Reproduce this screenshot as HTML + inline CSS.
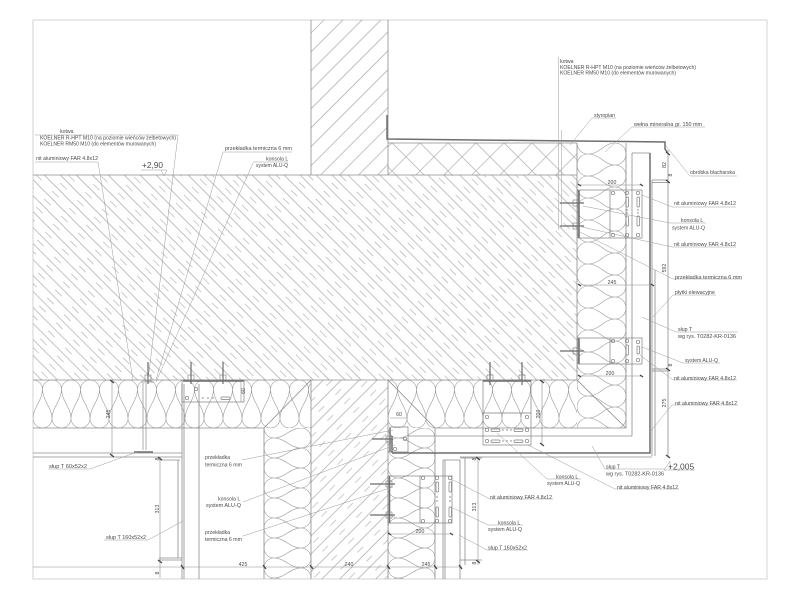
<!DOCTYPE html>
<html><head><meta charset="utf-8"><style>html,body{margin:0;padding:0;background:#fff}svg{display:block}text{font-family:"Liberation Sans",sans-serif;fill:#4a4a4a}</style></head><body>
<svg width="800" height="600" viewBox="0 0 800 600" xmlns="http://www.w3.org/2000/svg">
<defs>
<pattern id="hs" patternUnits="userSpaceOnUse" width="24" height="11.3" patternTransform="rotate(45)">
<line x1="0" y1="2" x2="24" y2="2" stroke="#9c9c9c" stroke-width="0.6"/>
<line x1="4" y1="7.65" x2="13" y2="7.65" stroke="#a8a8a8" stroke-width="0.6"/>
</pattern>
<pattern id="hw" patternUnits="userSpaceOnUse" width="20" height="13.4" patternTransform="rotate(-45)">
<line x1="0" y1="2" x2="20" y2="2" stroke="#9c9c9c" stroke-width="0.6"/>
</pattern>
<pattern id="hl" patternUnits="userSpaceOnUse" width="24" height="12.7" patternTransform="rotate(-45)">
<line x1="0" y1="2" x2="24" y2="2" stroke="#9c9c9c" stroke-width="0.6"/>
<line x1="6" y1="8.35" x2="14" y2="8.35" stroke="#aaa" stroke-width="0.6"/>
</pattern>
<pattern id="xs" patternUnits="userSpaceOnUse" width="19.8" height="19.8" patternTransform="rotate(45)">
<line x1="0" y1="2" x2="19.8" y2="2" stroke="#a4a4a4" stroke-width="0.6"/>
<line x1="2" y1="0" x2="2" y2="19.8" stroke="#a4a4a4" stroke-width="0.6"/>
</pattern>
<pattern id="wh" patternUnits="userSpaceOnUse" x="33" y="380" width="19" height="48">
<path d="M-9.5,9.5 A9.5,9.5 0 0 1 9.5,9.5 C9.5,20 0,28 0,38.5 A9.5,9.5 0 0 0 19,38.5 C19,28 9.5,20 9.5,9.5 A9.5,9.5 0 0 1 28.5,9.5 C28.5,20 19,28 19,38.5" fill="none" stroke="#9a9a9a" stroke-width="0.6"/>
</pattern>
<pattern id="wh2" patternUnits="userSpaceOnUse" x="388" y="380" width="19" height="48">
<path d="M-9.5,9.5 A9.5,9.5 0 0 1 9.5,9.5 C9.5,20 0,28 0,38.5 A9.5,9.5 0 0 0 19,38.5 C19,28 9.5,20 9.5,9.5 A9.5,9.5 0 0 1 28.5,9.5 C28.5,20 19,28 19,38.5" fill="none" stroke="#9a9a9a" stroke-width="0.6"/>
</pattern>
<pattern id="wv1" patternUnits="userSpaceOnUse" x="577" y="143" width="49" height="22">
<path d="M11,-11 A11,11 0 0 0 11,11 C23,11 27,0 38,0 A11,11 0 0 1 38,22 C27,22 23,11 11,11 A11,11 0 0 0 11,33 C23,33 27,22 38,22" fill="none" stroke="#9a9a9a" stroke-width="0.6"/>
</pattern>
<pattern id="wv2" patternUnits="userSpaceOnUse" x="264" y="428" width="47" height="20">
<path d="M10,-10 A10,10 0 0 0 10,10 C21,10 26,0 37,0 A10,10 0 0 1 37,20 C26,20 21,10 10,10 A10,10 0 0 0 10,30 C21,30 26,20 37,20" fill="none" stroke="#9a9a9a" stroke-width="0.6"/>
</pattern>
<pattern id="wv3" patternUnits="userSpaceOnUse" x="388" y="428" width="47" height="20">
<path d="M10,-10 A10,10 0 0 0 10,10 C21,10 26,0 37,0 A10,10 0 0 1 37,20 C26,20 21,10 10,10 A10,10 0 0 0 10,30 C21,30 26,20 37,20" fill="none" stroke="#9a9a9a" stroke-width="0.6"/>
</pattern>
</defs>

<rect x="33" y="20" width="734" height="559" fill="none" stroke="#c8c8c8" stroke-width="0.8"/>

<rect x="311" y="20" width="77" height="155" fill="url(#hw)"/>
<rect x="388" y="143" width="189" height="32" fill="url(#xs)"/>
<rect x="33" y="175" width="544" height="205" fill="url(#hs)"/>
<rect x="33" y="380" width="278" height="48" fill="url(#wh)"/>
<rect x="264" y="428" width="47" height="151" fill="url(#wv2)"/>
<rect x="311" y="380" width="77" height="199" fill="url(#hl)"/>
<rect x="388" y="380" width="189" height="48" fill="url(#wh2)"/>
<rect x="388" y="428" width="47" height="151" fill="url(#wv3)"/>
<rect x="577" y="143" width="49" height="285" fill="url(#wv1)"/>

<g stroke="#8c8c8c" stroke-width="0.8" fill="none">
<line x1="311" y1="20" x2="311" y2="175"/>
<line x1="388" y1="20" x2="388" y2="175"/>
<line x1="33" y1="175" x2="577" y2="175"/>
<line x1="33" y1="380" x2="577" y2="380"/>
<line x1="577" y1="143" x2="577" y2="380"/>
<line x1="388" y1="143" x2="577" y2="143"/>
<line x1="33" y1="428" x2="264" y2="428"/>
<line x1="264" y1="428" x2="264" y2="579"/>
<line x1="311" y1="380" x2="311" y2="579"/>
<line x1="388" y1="380" x2="388" y2="579"/>
<line x1="435" y1="428" x2="435" y2="579"/>
<line x1="435" y1="428" x2="626" y2="428"/>
<line x1="626" y1="143" x2="626" y2="428"/>
<line x1="388" y1="380" x2="435" y2="428"/>
<line x1="577" y1="380" x2="626" y2="428"/>
<line x1="264" y1="428" x2="311" y2="380"/>
<line x1="632" y1="153" x2="632" y2="436"/>
<line x1="408" y1="436" x2="632" y2="436"/>
<line x1="632" y1="153" x2="650" y2="153"/>
<line x1="652" y1="180" x2="652" y2="456"/>
<line x1="655" y1="270" x2="655" y2="456"/>
<line x1="652" y1="180" x2="668" y2="180"/>
<line x1="652" y1="182.5" x2="668" y2="182.5"/>
<line x1="652" y1="369" x2="668" y2="369"/>
<line x1="652" y1="371" x2="668" y2="371"/>
<line x1="460" y1="457" x2="652" y2="457"/>
<line x1="668" y1="150" x2="668" y2="457"/>
<line x1="182" y1="384" x2="182" y2="579"/>
<line x1="184" y1="384" x2="184" y2="579"/>
<line x1="199" y1="384" x2="199" y2="579"/>
<line x1="33" y1="453" x2="182" y2="453"/>
<line x1="33" y1="457" x2="182" y2="457"/>
<line x1="159" y1="460" x2="180" y2="460"/>
<line x1="178" y1="460" x2="178" y2="558"/>
<line x1="159" y1="558" x2="182" y2="558"/>
<line x1="159" y1="560" x2="182" y2="560"/>
<line x1="443" y1="460" x2="443" y2="579"/>
<line x1="445" y1="460" x2="445" y2="579"/>
<line x1="460" y1="460" x2="460" y2="579"/>
<line x1="443" y1="460" x2="460" y2="460"/>
<line x1="460" y1="458" x2="482" y2="458"/>
<line x1="460" y1="560" x2="482" y2="560"/>
<line x1="465" y1="458" x2="465" y2="565"/>
</g>

<g stroke="#6e6e6e" stroke-width="1.5" fill="none">
<polyline points="387,115 387,139 665,142 665,149 667,152"/>
<polyline points="650,153 650,453 392,453"/>
<line x1="392" y1="436" x2="392" y2="453"/>
<line x1="134" y1="452" x2="153" y2="452"/>
<line x1="579" y1="190" x2="579" y2="238"/>
<line x1="579" y1="338" x2="579" y2="364"/>
<line x1="389.5" y1="476" x2="389.5" y2="523"/>
<line x1="390" y1="428" x2="390" y2="452"/>
<line x1="183" y1="381" x2="244" y2="381"/>
<line x1="483" y1="381" x2="531" y2="381"/>
</g>

<g stroke="#8c8c8c" stroke-width="0.6" fill="none">
<line x1="33" y1="567" x2="462" y2="567"/>
<line x1="112" y1="380" x2="112" y2="456"/>
<line x1="160" y1="457" x2="160" y2="578"/>
<line x1="241" y1="380" x2="241" y2="402"/>
<line x1="478" y1="457" x2="478" y2="565"/>
<line x1="542" y1="380" x2="542" y2="445"/>
<line x1="578" y1="185" x2="642" y2="185"/>
<line x1="578" y1="285" x2="653" y2="285"/>
<line x1="578" y1="376" x2="642" y2="376"/>
<line x1="388" y1="534" x2="452" y2="534"/>
<line x1="390" y1="418" x2="408" y2="418"/>
</g>
<g stroke="#444" stroke-width="1.3">
<line x1="181" y1="565" x2="184" y2="569"/><line x1="263" y1="565" x2="266" y2="569"/>
<line x1="310" y1="565" x2="313" y2="569"/><line x1="387" y1="565" x2="390" y2="569"/>
<line x1="434" y1="565" x2="437" y2="569"/><line x1="459" y1="565" x2="462" y2="569"/>
<line x1="110" y1="380" x2="114" y2="383"/><line x1="110" y1="454" x2="114" y2="457"/>
<line x1="158" y1="457" x2="162" y2="460"/><line x1="158" y1="560" x2="162" y2="563"/>
<line x1="476" y1="457" x2="480" y2="460"/><line x1="476" y1="560" x2="480" y2="563"/>
<line x1="666" y1="152" x2="670" y2="155"/><line x1="666" y1="180" x2="670" y2="183"/>
<line x1="666" y1="368" x2="670" y2="371"/><line x1="666" y1="455" x2="670" y2="458"/>
<line x1="540" y1="380" x2="544" y2="383"/><line x1="540" y1="443" x2="544" y2="446"/>
<line x1="578" y1="184" x2="581" y2="186"/><line x1="640" y1="184" x2="643" y2="186"/>
<line x1="578" y1="284" x2="581" y2="286"/><line x1="651" y1="284" x2="654" y2="286"/>
<line x1="578" y1="375" x2="581" y2="377"/><line x1="640" y1="375" x2="643" y2="377"/>
<line x1="388" y1="533" x2="391" y2="535"/><line x1="450" y1="533" x2="453" y2="535"/>
</g>

<g stroke="#7e7e7e" stroke-width="0.7" fill="none">
<rect x="578" y="190" width="64" height="48"/>
<line x1="610" y1="190" x2="610" y2="238"/>
<rect x="578" y="338" width="64" height="26"/>
<line x1="610" y1="338" x2="610" y2="364"/>
<rect x="483" y="380" width="48" height="65"/>
<line x1="483" y1="413" x2="531" y2="413"/>
<rect x="182" y="380" width="62" height="22"/>
<rect x="390" y="427" width="18" height="25"/>
<rect x="388" y="476" width="64" height="47"/>
<line x1="420" y1="476" x2="420" y2="523"/>
<circle cx="613" cy="193" r="1.7"/><circle cx="627" cy="193" r="1.7"/><circle cx="638" cy="193" r="1.7"/>
<circle cx="613" cy="235" r="1.7"/><circle cx="627" cy="235" r="1.7"/><circle cx="638" cy="235" r="1.7"/>
<circle cx="613" cy="341" r="1.7"/><circle cx="627" cy="341" r="1.7"/><circle cx="638" cy="342" r="1.7"/>
<circle cx="613" cy="361" r="1.7"/><circle cx="627" cy="361" r="1.7"/><circle cx="638" cy="360" r="1.7"/>
<circle cx="487" cy="417" r="1.7"/><circle cx="527" cy="417" r="1.7"/>
<circle cx="487" cy="430" r="1.7"/><circle cx="527" cy="430" r="1.7"/>
<circle cx="487" cy="441" r="1.7"/><circle cx="527" cy="441" r="1.7"/>
<circle cx="196" cy="389" r="1.7"/><circle cx="187" cy="398" r="1.7"/>
<circle cx="405" cy="439" r="1.7"/><circle cx="395" cy="449" r="1.7"/>
<circle cx="423" cy="478" r="1.7"/><circle cx="437" cy="478" r="1.7"/><circle cx="450" cy="478" r="1.7"/>
<circle cx="423" cy="521" r="1.7"/><circle cx="437" cy="521" r="1.7"/><circle cx="450" cy="521" r="1.7"/>
<rect x="626" y="197" width="2.5" height="10" rx="1"/><rect x="626" y="216" width="2.5" height="10" rx="1"/>
<rect x="637" y="197" width="2.5" height="10" rx="1"/><rect x="637" y="216" width="2.5" height="10" rx="1"/>
<rect x="626" y="345" width="2.5" height="10" rx="1"/><rect x="637" y="346" width="2.5" height="8" rx="1"/>
<rect x="491" y="429" width="9" height="2.5" rx="1"/><rect x="514" y="429" width="9" height="2.5" rx="1"/>
<rect x="491" y="440" width="9" height="2.5" rx="1"/><rect x="514" y="440" width="9" height="2.5" rx="1"/>
<rect x="436" y="482" width="2.5" height="10" rx="1"/><rect x="436" y="507" width="2.5" height="10" rx="1"/>
<rect x="449" y="482" width="2.5" height="10" rx="1"/><rect x="449" y="507" width="2.5" height="10" rx="1"/>
<rect x="221" y="397" width="9" height="2.5" rx="1"/>
</g>
<g fill="#777">
<circle cx="627" cy="210" r="0.7"/><circle cx="627" cy="213" r="0.7"/><circle cx="638" cy="210" r="0.7"/><circle cx="638" cy="213" r="0.7"/>
<circle cx="503" cy="430" r="0.7"/><circle cx="507" cy="430" r="0.7"/><circle cx="511" cy="430" r="0.7"/>
<circle cx="503" cy="441" r="0.7"/><circle cx="507" cy="441" r="0.7"/><circle cx="511" cy="441" r="0.7"/>
<circle cx="437" cy="497" r="0.7"/><circle cx="437" cy="501" r="0.7"/><circle cx="450" cy="497" r="0.7"/><circle cx="450" cy="501" r="0.7"/>
<circle cx="203" cy="398" r="0.7"/><circle cx="208" cy="398" r="0.7"/><circle cx="213" cy="398" r="0.7"/>
</g>
<g stroke="#6a6a6a" stroke-width="1.2" fill="none">
<line x1="560" y1="203" x2="584" y2="203"/><line x1="560" y1="226" x2="584" y2="226"/>
<line x1="560" y1="351" x2="584" y2="351"/>
<line x1="490" y1="362" x2="490" y2="385"/><line x1="522" y1="362" x2="522" y2="385"/>
<line x1="191" y1="362" x2="191" y2="384"/><line x1="223" y1="362" x2="223" y2="384"/>
<line x1="148" y1="362" x2="148" y2="384"/>
<line x1="372" y1="439" x2="393" y2="439"/>
<line x1="370" y1="484" x2="395" y2="484"/><line x1="370" y1="515" x2="395" y2="515"/>
</g>
<g stroke="#7a7a7a" stroke-width="0.6" fill="none">
<rect x="573" y="200" width="6" height="6"/><rect x="573" y="223" width="6" height="6"/><rect x="573" y="348" width="6" height="6"/>
<rect x="487" y="375" width="6" height="6"/><rect x="519" y="375" width="6" height="6"/>
<rect x="188" y="375" width="6" height="6"/><rect x="220" y="375" width="6" height="6"/><rect x="145" y="375" width="6" height="6"/>
<rect x="386" y="436" width="6" height="6"/><rect x="386" y="481" width="6" height="6"/><rect x="386" y="512" width="6" height="6"/>
<line x1="143" y1="383" x2="143" y2="450"/><line x1="146" y1="383" x2="146" y2="450"/>
<line x1="141" y1="382" x2="154" y2="382"/>
</g>

<g stroke="#9a9a9a" stroke-width="0.5" fill="none">
<line x1="35" y1="135" x2="178" y2="135"/>
<line x1="35" y1="162" x2="98" y2="162"/>
<line x1="98" y1="162" x2="133" y2="380"/>
<line x1="178" y1="135" x2="148" y2="380"/>
<line x1="223" y1="152" x2="292" y2="152"/>
<line x1="223" y1="152" x2="156" y2="380"/>
<line x1="253" y1="162" x2="288" y2="162"/>
<line x1="253" y1="163" x2="156" y2="382"/>
<line x1="141" y1="170" x2="167" y2="170"/>
<polyline points="161,170 164,176 167,170"/>
<line x1="558.5" y1="57" x2="558.5" y2="230"/>
<line x1="561.5" y1="130" x2="561.5" y2="228"/>
<line x1="592" y1="118" x2="616" y2="118"/><line x1="592" y1="118" x2="570" y2="145"/>
<line x1="632" y1="127" x2="705" y2="127"/><line x1="632" y1="127" x2="605" y2="152"/>
<line x1="690" y1="176" x2="737" y2="176"/><line x1="690" y1="176" x2="666" y2="146"/>
<line x1="672" y1="207" x2="736" y2="207"/><line x1="672" y1="207" x2="642" y2="195"/>
<line x1="670" y1="223" x2="706" y2="223"/><line x1="670" y1="223" x2="583" y2="206"/>
<line x1="672" y1="247" x2="736" y2="247"/><line x1="672" y1="247" x2="582" y2="227"/>
<line x1="673" y1="279" x2="742" y2="279"/><line x1="673" y1="279" x2="580" y2="232"/>
<line x1="673" y1="295" x2="716" y2="295"/><line x1="673" y1="295" x2="653" y2="317"/>
<line x1="676" y1="332" x2="738" y2="332"/><line x1="676" y1="332" x2="642" y2="317"/>
<line x1="683" y1="363" x2="720" y2="363"/><line x1="683" y1="363" x2="642" y2="347"/>
<line x1="673" y1="380" x2="737" y2="380"/><line x1="673" y1="380" x2="640" y2="355"/>
<line x1="672" y1="405" x2="738" y2="405"/><line x1="672" y1="405" x2="650" y2="432"/>
<line x1="605" y1="469" x2="665" y2="469"/><line x1="605" y1="469" x2="592" y2="446"/>
<line x1="547" y1="479" x2="581" y2="479"/><line x1="547" y1="479" x2="497" y2="433"/>
<line x1="615" y1="489" x2="679" y2="489"/><line x1="615" y1="489" x2="528" y2="445"/>
<line x1="490" y1="499" x2="553" y2="499"/><line x1="490" y1="499" x2="453" y2="480"/>
<line x1="488" y1="525" x2="523" y2="525"/><line x1="488" y1="525" x2="453" y2="508"/>
<line x1="487" y1="550" x2="528" y2="550"/><line x1="487" y1="550" x2="459" y2="535"/>
<line x1="48" y1="469" x2="90" y2="469"/><line x1="90" y1="469" x2="137" y2="452"/>
<line x1="104" y1="540" x2="148" y2="540"/><line x1="148" y1="540" x2="183" y2="521"/>
<line x1="242" y1="460" x2="393" y2="430"/>
<line x1="243" y1="502" x2="395" y2="445"/>
<line x1="243" y1="536" x2="393" y2="487"/>
<line x1="664" y1="470" x2="695" y2="470"/>
<polyline points="664,470 670,461 670,470"/>
</g>

<g font-size="5.2">
<text x="60" y="133">kotwa</text>
<text x="40" y="139.5" textLength="136" lengthAdjust="spacingAndGlyphs">KOELNER R-HPT M10 (na poziomie wieńców żelbetowych)</text>
<text x="40" y="145.5" textLength="116" lengthAdjust="spacingAndGlyphs">KOELNER RM50 M10 (do elementów murowanych)</text>
<text x="36" y="160" textLength="62" lengthAdjust="spacingAndGlyphs">nit aluminiowy FAR 4.8x12</text>
<text x="225" y="150" textLength="67" lengthAdjust="spacingAndGlyphs">przekładka termiczna 6 mm</text>
<text x="266" y="160.5">konsola L</text>
<text x="256" y="167" textLength="32" lengthAdjust="spacingAndGlyphs">system ALU-Q</text>
<text x="560" y="63">kotwa</text>
<text x="560" y="69" textLength="136" lengthAdjust="spacingAndGlyphs">KOELNER R-HPT M10 (na poziomie wieńców żelbetowych)</text>
<text x="560" y="74.5" textLength="116" lengthAdjust="spacingAndGlyphs">KOELNER RM50 M10 (do elementów murowanych)</text>
<text x="594" y="117" textLength="21" lengthAdjust="spacingAndGlyphs">styropian</text>
<text x="634" y="126" textLength="68" lengthAdjust="spacingAndGlyphs">wełna mineralna gr. 150 mm</text>
<text x="690" y="174" textLength="45" lengthAdjust="spacingAndGlyphs">obróbka blacharska</text>
<text x="674" y="205" textLength="62" lengthAdjust="spacingAndGlyphs">nit aluminiowy FAR 4.8x12</text>
<text x="681" y="222">konsola L</text>
<text x="672" y="229.5" textLength="33" lengthAdjust="spacingAndGlyphs">system ALU-Q</text>
<text x="674" y="246" textLength="62" lengthAdjust="spacingAndGlyphs">nit aluminiowy FAR 4.8x12</text>
<text x="675" y="279" textLength="67" lengthAdjust="spacingAndGlyphs">przekładka termiczna 6 mm</text>
<text x="675" y="294" textLength="40" lengthAdjust="spacingAndGlyphs">płytki elewacyjne</text>
<text x="678" y="331">słup T</text>
<text x="678" y="338" textLength="58" lengthAdjust="spacingAndGlyphs">wg rys. T0282-KR-0136</text>
<text x="685" y="362" textLength="33" lengthAdjust="spacingAndGlyphs">system ALU-Q</text>
<text x="674" y="380" textLength="62" lengthAdjust="spacingAndGlyphs">nit aluminiowy FAR 4.8x12</text>
<text x="675" y="405" textLength="62" lengthAdjust="spacingAndGlyphs">nit aluminiowy FAR 4.8x12</text>
<text x="606" y="468.5">słup T</text>
<text x="606" y="475.5" textLength="58" lengthAdjust="spacingAndGlyphs">wg rys. T0282-KR-0136</text>
<text x="556" y="478.5">konsola L</text>
<text x="547" y="485" textLength="33" lengthAdjust="spacingAndGlyphs">system ALU-Q</text>
<text x="617" y="489" textLength="61" lengthAdjust="spacingAndGlyphs">nit aluminiowy FAR 4.8x12</text>
<text x="490" y="499" textLength="62" lengthAdjust="spacingAndGlyphs">nit aluminiowy FAR 4.8x12</text>
<text x="498" y="524.5">konsola L</text>
<text x="488" y="531" textLength="34" lengthAdjust="spacingAndGlyphs">system ALU-Q</text>
<text x="488" y="549.5" textLength="39" lengthAdjust="spacingAndGlyphs">słup T 160x52x2</text>
<text x="49" y="468" textLength="38" lengthAdjust="spacingAndGlyphs">słup T 60x52x2</text>
<text x="205" y="459">przekładka</text>
<text x="205" y="466.5">termiczna 6 mm</text>
<text x="218" y="500.5">konsola L</text>
<text x="206" y="507" textLength="35" lengthAdjust="spacingAndGlyphs">system ALU-Q</text>
<text x="106" y="539" textLength="40" lengthAdjust="spacingAndGlyphs">słup T 160x52x2</text>
<text x="205" y="534">przekładka</text>
<text x="205" y="541">termiczna 6 mm</text>
<text x="612" y="184" text-anchor="middle">200</text>
<text x="612" y="284" text-anchor="middle">245</text>
<text x="610" y="375" text-anchor="middle">200</text>
<text x="420" y="533" text-anchor="middle">200</text>
<text x="399" y="416" text-anchor="middle">60</text>
<text x="243" y="566" text-anchor="middle">425</text>
<text x="349" y="566" text-anchor="middle">240</text>
<text x="426" y="566" text-anchor="middle">245</text>
<text transform="translate(110,414) rotate(-90)" text-anchor="middle">245</text>
<text transform="translate(159,509) rotate(-90)" text-anchor="middle">313</text>
<text transform="translate(159,459) rotate(-90)" text-anchor="middle">8</text>
<text transform="translate(159,573) rotate(-90)" text-anchor="middle">8</text>
<text transform="translate(476,507) rotate(-90)" text-anchor="middle">313</text>
<text transform="translate(476,459) rotate(-90)" text-anchor="middle">8</text>
<text transform="translate(476,563) rotate(-90)" text-anchor="middle">8</text>
<text transform="translate(540,414) rotate(-90)" text-anchor="middle">200</text>
<text transform="translate(245,391) rotate(-90)" text-anchor="middle">60</text>
<text transform="translate(666,165) rotate(-90)" text-anchor="middle">82</text>
<text transform="translate(672,175) rotate(-90)" text-anchor="middle">8</text>
<text transform="translate(666,268) rotate(-90)" text-anchor="middle">592</text>
<text transform="translate(672,365) rotate(-90)" text-anchor="middle">8</text>
<text transform="translate(666,403) rotate(-90)" text-anchor="middle">275</text>
</g>
<text x="142" y="168" font-size="8.3" fill="#666">+2,90</text>
<text x="668" y="469.5" font-size="8.5" fill="#666">+2,005</text>
</svg>
</body></html>
